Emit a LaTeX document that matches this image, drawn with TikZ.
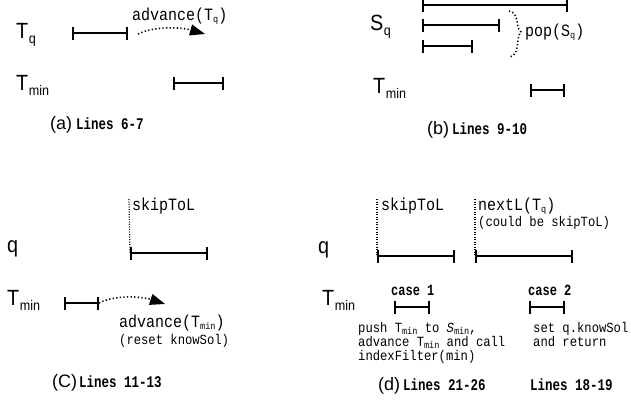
\documentclass[tikz,border=0pt]{standalone}
\usepackage{fontspec}
\setmainfont{Liberation Sans}
\newfontfamily\monof{Liberation Mono}
\usetikzlibrary{arrows.meta}
% large sans label with a lowered subscript, slightly condensed
\newcommand\biglab[2]{\scalebox{0.9}[1]{\fontsize{22}{22}\selectfont #1}\kern0.5pt\raisebox{-5pt}{\scalebox{0.9}[1]{\fontsize{14}{14}\selectfont #2}}}
% small lowered subscript inside code text
\newcommand\tsub[1]{\raisebox{-2pt}{\fontsize{8.5}{8.5}\selectfont #1}}
% typewriter text drawn a little taller than the font
\newcommand\tall[1]{\scalebox{1}[1.15]{#1}}
\newcommand\taller[1]{\scalebox{1}[1.3]{#1}}
\begin{document}
\begin{tikzpicture}[x=1pt,y=-1pt,
  lab/.style={anchor=base west, inner sep=0pt},
  code/.style={anchor=base west, inner sep=0pt, font=\monof\fontsize{15}{15}\selectfont},
  note/.style={anchor=base west, inner sep=0pt, font=\monof\fontsize{12.2}{12.2}\selectfont},
  capt/.style={anchor=base west, inner sep=0pt, font=\fontsize{18}{18}\selectfont},
  lines/.style={anchor=base west, inner sep=0pt, font=\monof\bfseries\fontsize{12.5}{12.5}\selectfont},
  casel/.style={anchor=base west, inner sep=0pt, font=\monof\bfseries\fontsize{12}{12}\selectfont},
  iv/.style={line width=1.8pt, {Bar[width=13pt]}-{Bar[width=13pt]}},
  adv/.style={line width=1.6pt, dash pattern=on 1.3pt off 2.3pt, -{Triangle[length=15pt,width=11pt]}},
  guide/.style={line width=1.2pt, dash pattern=on 1pt off 1.5pt},
  brace/.style={line width=1.5pt, dash pattern=on 1.3pt off 2.2pt}]
\useasboundingbox (0,0) rectangle (631,399);

% ---------- (a) ----------
\node[lab] (aTq) at (16,38) {\biglab{T}{q}};
\node[lab] (aTm) at (16,90) {\biglab{T}{min}};
\coordinate (aq1) at (72,33);  \coordinate (aq2) at (128,33);
\coordinate (am1) at (173,83); \coordinate (am2) at (224,83);
\draw[iv] (aq1) -- (aq2);
\draw[iv] (am1) -- (am2);
\coordinate (aas) at (138,34); \coordinate (aat) at (205,34);
\draw[adv] (aas) .. controls (155,26) and (180,27) .. (aat);
\node[code] (aadv) at (132,20) {\tall{advance(T\tsub{q})}};
\node[capt] (acap) at (50,129) {(a)};
\node[lines] (alines) at (76,129) {\taller{Lines 6-7}};

% ---------- (b) ----------
\node[lab] (bSq) at (370,30) {\biglab{S}{q}};
\node[lab] (bTm) at (373,93) {\biglab{T}{min}};
\coordinate (bs1) at (422,5);  \coordinate (bs2) at (568,5);
\coordinate (bs3) at (422,25); \coordinate (bs4) at (500,25);
\coordinate (bs5) at (422,46); \coordinate (bs6) at (473,46);
\draw[iv] (bs1) -- (bs2);
\draw[iv] (bs3) -- (bs4);
\draw[iv] (bs5) -- (bs6);
\coordinate (bm1) at (530,90); \coordinate (bm2) at (565,90);
\draw[iv] (bm1) -- (bm2);
\coordinate (bbt) at (509,11); \coordinate (bbm) at (521,32); \coordinate (bbb) at (510,57);
\draw[brace] (bbt) .. controls (520,13) and (515,28) .. (bbm)
                   .. controls (515,38) and (521,54) .. (bbb);
\node[code] (bpop) at (525,36) {\tall{pop(S\tsub{q})}};
\node[capt] (bcap) at (427,134) {(b)};
\node[lines] (blines) at (452,134) {\taller{Lines 9-10}};

% ---------- (c) ----------
\node[lab] (cq) at (7,252) {\biglab{q}{}};
\node[lab] (cTm) at (7,305) {\biglab{T}{min}};
\coordinate (cq1) at (130,253); \coordinate (cq2) at (208,253);
\draw[iv] (cq1) -- (cq2);
\coordinate (cg) at (129,199);
\draw[guide] (cg) -- (cq1);
\node[code] (cskip) at (132,210) {\tall{skipToL}};
\coordinate (cm1) at (64,303); \coordinate (cm2) at (99,303);
\draw[iv] (cm1) -- (cm2);
\coordinate (cat) at (165,304);
\draw[adv] (cm2) .. controls (115,295) and (140,296) .. (cat);
\node[code] (cadv) at (119,327) {\tall{advance(T\tsub{min})}};
\node[note] (creset) at (119,344) {\tall{(reset knowSol)}};
\node[capt] (ccap) at (52,387) {(C)};
\node[lines] (clines) at (79,387) {\taller{Lines 11-13}};

% ---------- (d) ----------
\node[lab] (dq) at (318,253) {\biglab{q}{}};
\node[lab] (dTm) at (322,305) {\biglab{T}{min}};
\coordinate (dq1) at (377,256); \coordinate (dq2) at (455,256);
\coordinate (dq3) at (475,256); \coordinate (dq4) at (573,256);
\draw[iv] (dq1) -- (dq2);
\draw[iv] (dq3) -- (dq4);
\coordinate (dg1) at (377,199); \coordinate (dg2) at (475,199);
\draw[guide] (dg1) -- (dq1);
\draw[guide] (dg2) -- (dq3);
\node[code] (dskip) at (381,210) {\tall{skipToL}};
\node[code] (dnext) at (478,210) {\tall{nextL(T\tsub{q})}};
\node[note] (dcould) at (478,226) {\tall{(could be skipToL)}};
\node[casel] (dc1) at (391,295) {\taller{case 1}};
\node[casel] (dc2) at (528,295) {\taller{case 2}};
\coordinate (dm1) at (394,307); \coordinate (dm2) at (430,307);
\coordinate (dm3) at (529,307); \coordinate (dm4) at (565,307);
\draw[iv] (dm1) -- (dm2);
\draw[iv] (dm3) -- (dm4);
\node[note] (dpush) at (358,332) {\tall{push T\tsub{min} to \textit{S}\tsub{min},}};
\node[note] (dadv) at (358,346) {\tall{advance T\tsub{min} and call}};
\node[note] (didx) at (358,360) {\tall{indexFilter(min)}};
\node[note] (dset) at (533,332) {\tall{set q.knowSol}};
\node[note] (dret) at (533,346) {\tall{and return}};
\node[capt] (dcap) at (378,390) {(d)};
\node[lines] (dlines1) at (403,390) {\taller{Lines 21-26}};
\node[lines] (dlines2) at (530,390) {\taller{Lines 18-19}};
\end{tikzpicture}
\end{document}
